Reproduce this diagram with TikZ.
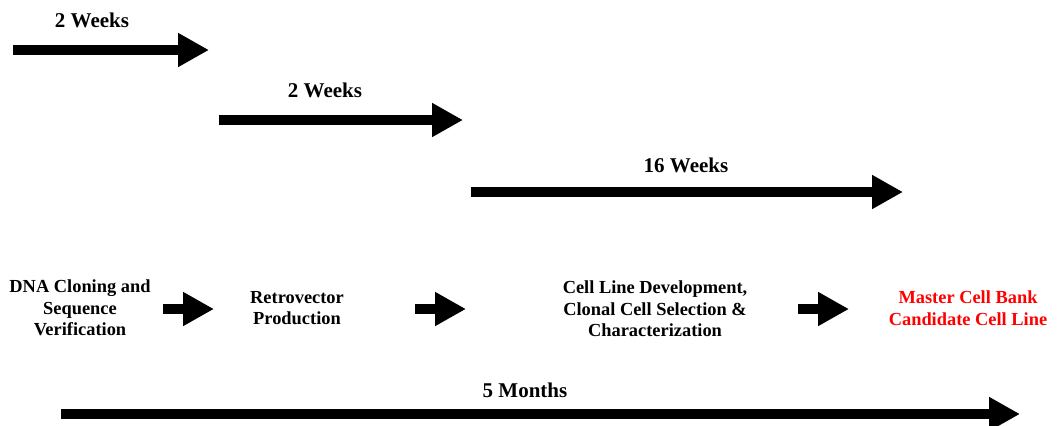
\documentclass[tikz,border=0pt]{standalone}
\usepackage{fontspec}
\setmainfont{Liberation Serif}
\usetikzlibrary{arrows.meta}
\tikzset{
	fatarrow/.style={line width=5pt,-{Triangle[length=15.5pt,width=16pt]}},
	timelabel/.style={font=\fontsize{10.5}{12}\selectfont\bfseries},
	stagebox/.style={font=\fontsize{9.2}{10.75}\selectfont\bfseries,align=center},
}
\begin{document}
\begin{tikzpicture}[x=0.5pt,y=-0.5pt]
	\useasboundingbox (0,0) rectangle (1058,425);
	% time spans
	\coordinate (w1s) at (13,50);   \coordinate (w1e) at (209,50);
	\coordinate (w2s) at (219,120); \coordinate (w2e) at (463,120);
	\coordinate (w3s) at (471,192); \coordinate (w3e) at (903,192);
	\coordinate (m5s) at (61,414);  \coordinate (m5e) at (1020,414);
	\draw[fatarrow] (w1s) -- (w1e);
	\draw[fatarrow] (w2s) -- (w2e);
	\draw[fatarrow] (w3s) -- (w3e);
	\draw[fatarrow] (m5s) -- (m5e);
	\node[timelabel] (t1) at (92,20) {2 Weeks};
	\node[timelabel] (t2) at (325,90) {2 Weeks};
	\node[timelabel] (t3) at (686,165) {16 Weeks};
	\node[timelabel] (t4) at (525,390) {5 Months};
	% stages
	\node[stagebox] (dna) at (80,308) {DNA Cloning and\\Sequence\\Verification};
	\node[stagebox] (retro) at (297,308) {Retrovector\\Production};
	\node[stagebox] (cell) at (655,309) {Cell Line Development,\\Clonal Cell Selection \&\\Characterization};
	\node[stagebox,text=red] (bank) at (968,308) {Master Cell Bank\\Candidate Cell Line};
	\coordinate (a1s) at (163,309); \coordinate (a1e) at (214,309);
	\coordinate (a2s) at (415,309); \coordinate (a2e) at (466,309);
	\coordinate (a3s) at (798,309); \coordinate (a3e) at (849,309);
	\draw[fatarrow] (a1s) -- (a1e);
	\draw[fatarrow] (a2s) -- (a2e);
	\draw[fatarrow] (a3s) -- (a3e);
\end{tikzpicture}
\end{document}
